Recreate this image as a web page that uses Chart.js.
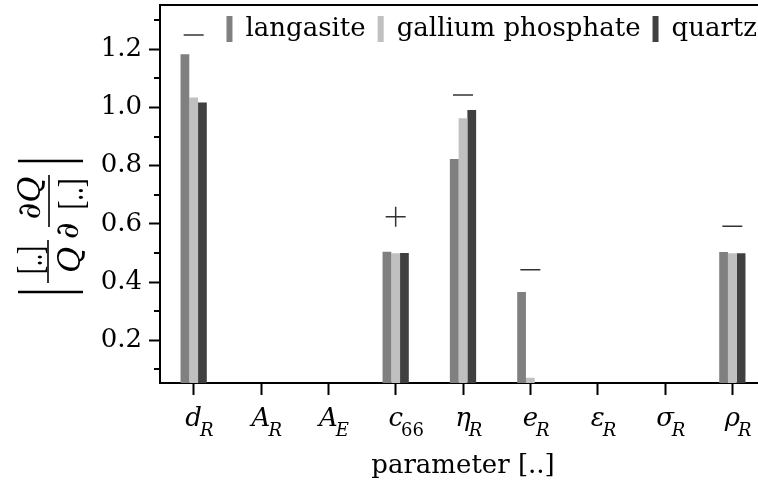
<!DOCTYPE html>
<html>
<head>
<meta charset="utf-8">
<script src="https://cdn.jsdelivr.net/npm/chart.js@4.4.1/dist/chart.umd.min.js"></script>
<style>
  html, body { margin: 0; padding: 0; background: #fff; overflow: hidden; }
  #wrap { width: 766px; height: 494px; }
</style>
</head>
<body>
<div id="wrap"><canvas id="sensChart" width="766" height="494"></canvas></div>
<script>
// parameters on the x axis: symbol + subscript
const params    = ['d_R', 'A_R', 'A_E', 'c_66', 'η_R', 'e_R', 'ε_R', 'σ_R', 'ρ_R'];
const paramMain = ['d', 'A', 'A', 'c', 'η', 'e', 'ε', 'σ', 'ρ'];
const paramSub  = ['R', 'R', 'E', '66', 'R', 'R', 'R', 'R', 'R'];

// normalised sensitivities |[..]/Q dQ/d[..]|
const langasite        = [1.183, 0, 0, 0.504, 0.823, 0.366, 0, 0, 0.503];
const galliumPhosphate = [1.034, 0, 0, 0.499, 0.963, 0.071, 0, 0, 0.499];
const quartz           = [1.017, 0, 0, 0.500, 0.991, 0, 0, 0, 0.499];

// sign of the sensitivity, marked above each group
const signs     = ['-', null, null, '+', '-', '-', null, null, '-'];
const signLevel = [1.249, null, null, 0.624, 1.043, 0.442, null, null, 0.592];

const yMajorTicks = [0.2, 0.4, 0.6, 0.8, 1.0, 1.2];
const yMinorTicks = [0.1, 0.3, 0.5, 0.7, 0.9, 1.1, 1.3];
const yMin = 0.053;
const yMax = 1.352;

const SERIF = '"DejaVu Serif", serif';

function line(ctx, x1, y1, x2, y2, w) {
    ctx.lineWidth = w;
    ctx.beginPath();
    ctx.moveTo(x1, y1);
    ctx.lineTo(x2, y2);
    ctx.stroke();
}

// draws text centred at (x, y), squeezed to a given width if asked
function centred(ctx, text, x, y, font, width) {
    ctx.save();
    ctx.font = font;
    ctx.translate(x, y);
    if (width) ctx.scale(width / ctx.measureText(text).width, 1);
    ctx.fillText(text, 0, 0);
    ctx.restore();
}

const decorations = {
    id: 'decorations',
    afterDraw(chart) {
        const { ctx, chartArea, scales: { x, y } } = chart;
        ctx.save();
        ctx.strokeStyle = '#000';
        ctx.fillStyle = '#000';

        // top frame
        line(ctx, chartArea.left, chartArea.top, chartArea.right, chartArea.top, 2);

        // minor y ticks
        yMinorTicks.forEach(v => {
            const py = Math.round(y.getPixelForValue(v));
            line(ctx, chartArea.left - 6, py, chartArea.left, py, 2);
        });

        // category labels, italic symbol with subscript
        ctx.textBaseline = 'alphabetic';
        paramMain.forEach((sym, i) => {
            const px = x.getPixelForValue(i);
            ctx.font = `italic 26px ${SERIF}`;
            ctx.textAlign = 'center';
            const w = ctx.measureText(sym).width;
            ctx.fillText(sym, px, 426);
            const sub = paramSub[i];
            ctx.font = /^\d+$/.test(sub) ? `18px ${SERIF}` : `italic 18px ${SERIF}`;
            ctx.textAlign = 'left';
            ctx.fillText(sub, px + w / 2 - 2, 436);
        });

        // legend for the three crystals, right aligned inside the plot
        ctx.font = `26px ${SERIF}`;
        ctx.textAlign = 'left';
        ctx.textBaseline = 'middle';
        const items = chart.data.datasets.slice(0, 3);
        const widths = items.map(d => 6 + 13 + ctx.measureText(d.label).width);
        let lx = 757 - widths.reduce((a, b) => a + b, 0) - 12 * (items.length - 1);
        items.forEach((d, i) => {
            ctx.fillStyle = d.backgroundColor;
            ctx.fillRect(lx, 16, 6, 26);
            ctx.fillStyle = '#000';
            ctx.fillText(d.label, lx + 19, 29);
            lx += widths[i] + 12;
        });

        // y axis title: |[..]/Q * dQ/d[..]|, rotated
        ctx.translate(50, 227);
        ctx.rotate(-Math.PI / 2);
        ctx.textAlign = 'center';
        ctx.textBaseline = 'middle';
        const math = `italic 32px ${SERIF}`;
        const brk = '36px "Liberation Serif", serif';
        line(ctx, -65, -32, -65, 33, 2.5);
        line(ctx, 66, -32, 66, 33, 2.5);
        line(ctx, -56, -2, -13, -2, 1.6);
        line(ctx, 0, -1, 52, -1, 1.6);
        centred(ctx, '[..]', -33, -17, brk, 28);
        centred(ctx, 'Q', -33, 22, math);
        centred(ctx, '∂Q', 29, -18, math);
        centred(ctx, '∂', -4, 20, math);
        centred(ctx, '[..]', 33, 24, brk, 31);

        ctx.restore();
    }
};

const ctx = document.getElementById('sensChart').getContext('2d');

new Chart(ctx, {
    type: 'bar',
    data: {
        labels: params,
        datasets: [
            { label: 'langasite', data: langasite, backgroundColor: '#808080' },
            { label: 'gallium phosphate', data: galliumPhosphate, backgroundColor: '#c0c0c0' },
            { label: 'quartz', data: quartz, backgroundColor: '#404040' },
            {
                type: 'line',
                label: 'sign',
                data: signLevel,
                showLine: false,
                pointStyle: signs.map(s => (s === '+' ? 'cross' : 'line')),
                pointRadius: 10,
                pointBorderColor: '#333',
                pointBackgroundColor: 'rgba(0,0,0,0)',
                pointBorderWidth: 1.5,
            },
        ],
    },
    options: {
        responsive: false,
        animation: false,
        events: [],
        layout: { autoPadding: false, padding: { left: 0, right: 0, top: 5, bottom: 0 } },
        datasets: {
            bar: { barPercentage: 1, categoryPercentage: 0.39, borderWidth: 0 },
        },
        plugins: {
            legend: { display: false },
            tooltip: { enabled: false },
        },
        scales: {
            x: {
                offset: true,
                grid: { drawOnChartArea: false, offset: false, tickLength: 12, tickColor: '#000', tickWidth: 2 },
                border: { color: '#000', width: 2 },
                ticks: { display: false },
                title: {
                    display: true,
                    text: 'parameter [..]',
                    color: '#000',
                    font: { family: SERIF, size: 26 },
                    padding: { top: 0, bottom: 12 },
                },
                afterFit: s => {
                    s.height = 111;
                    s.paddingLeft = 0;
                    s.paddingRight = 0;
                },
            },
            y: {
                min: yMin,
                max: yMax,
                afterBuildTicks: s => { s.ticks = yMajorTicks.map(v => ({ value: v })); },
                grid: { drawOnChartArea: false, tickLength: 11, tickColor: '#000', tickWidth: 2 },
                border: { color: '#000', width: 2 },
                ticks: {
                    color: '#000',
                    padding: 7,
                    font: { family: SERIF, size: 26 },
                    callback: v => v.toFixed(1),
                },
                afterFit: s => {
                    s.width = 160;
                    s.paddingTop = 0;
                    s.paddingBottom = 0;
                },
            },
        },
    },
    plugins: [decorations],
});
</script>
</body>
</html>
